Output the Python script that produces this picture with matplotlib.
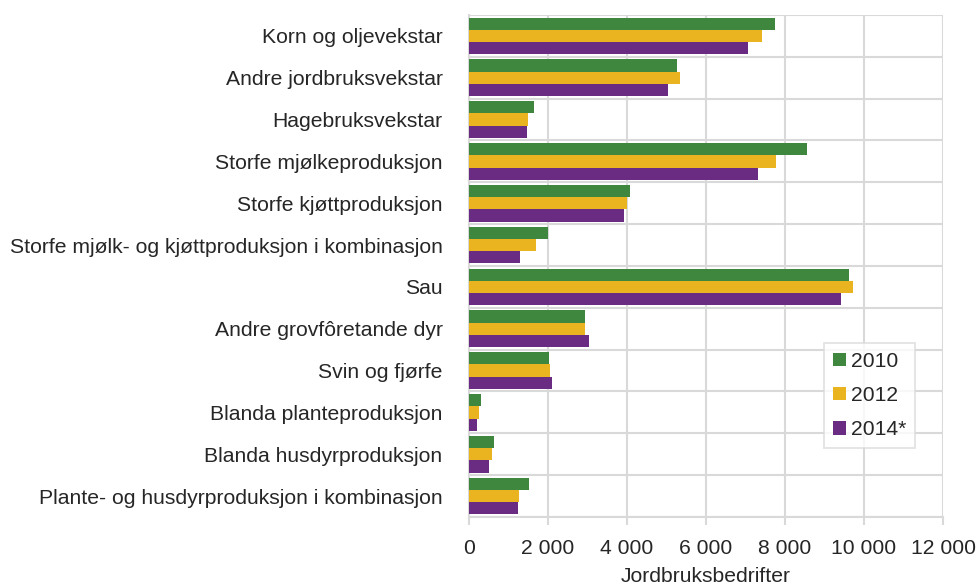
import matplotlib.pyplot as plt
import numpy as np

kategoriar = ['Korn og oljevekstar', 'Andre jordbruksvekstar', 'Hagebruksvekstar',
              'Storfe mjølkeproduksjon', 'Storfe kjøttproduksjon',
              'Storfe mjølk- og kjøttproduksjon i kombinasjon', 'Sau',
              'Andre grovfôretande dyr', 'Svin og fjørfe', 'Blanda planteproduksjon',
              'Blanda husdyrproduksjon', 'Plante- og husdyrproduksjon i kombinasjon']
aar = ['2010', '2012', '2014*']
v2010 = [7750, 5260, 1640, 8545, 4080, 2010, 9620, 2945, 2035, 305, 635, 1530]
v2012 = [7415, 5345, 1505, 7760, 4010, 1690, 9715, 2925, 2050, 250, 570, 1275]
v2014 = [7060, 5030, 1460, 7320, 3935, 1300, 9430, 3030, 2100, 215, 510, 1235]
fargar = ['#3f873f', '#eab420', '#6a2c82']
xticks = [0, 2000, 4000, 6000, 8000, 10000, 12000]

plt.rcParams['font.family'] = ['Liberation Sans', 'DejaVu Sans']
tekst = '#262626'
grid = '#d9d9d9'
fs = 15.2

fig = plt.figure(figsize=(9.76, 5.85), dpi=100)
ax = fig.add_axes([469 / 976, 1 - 517 / 585, (943 - 469) / 976, (517 - 15) / 585])

y = np.arange(len(kategoriar))
h = 0.293
for i, (serie, namn) in enumerate(zip([v2010, v2012, v2014], aar)):
    ax.barh(y + (i - 1) * h, serie, height=h, color=fargar[i], label=namn, zorder=3)

ax.set_ylim(len(kategoriar) - 0.5, -0.5)
ax.set_xlim(0, 12000)
ax.set_yticks(y)
ax.set_yticklabels(kategoriar)
ax.set_yticks(np.arange(len(kategoriar) + 1) - 0.5, minor=True)
ax.set_xticks(xticks)
ax.set_xticklabels([f'{v:,}'.replace(',', ' ') for v in xticks])
ax.tick_params(axis='y', which='both', length=0, labelsize=fs, labelcolor=tekst, pad=19)
ax.tick_params(axis='x', length=6, width=1.5, color=grid, labelsize=fs, labelcolor=tekst, pad=10)
ax.grid(axis='x', color=grid, linewidth=1.5, zorder=0)
ax.grid(axis='y', which='minor', color=grid, linewidth=1.5, zorder=0)
for s in ['top', 'right']:
    ax.spines[s].set_visible(False)
for s in ['left', 'bottom']:
    ax.spines[s].set_color(grid)
    ax.spines[s].set_linewidth(1.5)
ax.set_xlabel('Jordbruksbedrifter', fontsize=fs, color=tekst, labelpad=6)

leg = ax.legend(loc='upper left', bbox_to_anchor=(824 / 976, 1 - 343 / 585),
                bbox_transform=fig.transFigure, fontsize=fs, frameon=True, fancybox=False,
                handlelength=0.62, handleheight=0.62, handletextpad=0.25, labelspacing=0.72,
                borderpad=0.42, borderaxespad=0)
leg.get_frame().set_edgecolor(grid)
leg.get_frame().set_linewidth(1.2)
for t in leg.get_texts():
    t.set_color(tekst)

fig.savefig('out.png', dpi=100)
